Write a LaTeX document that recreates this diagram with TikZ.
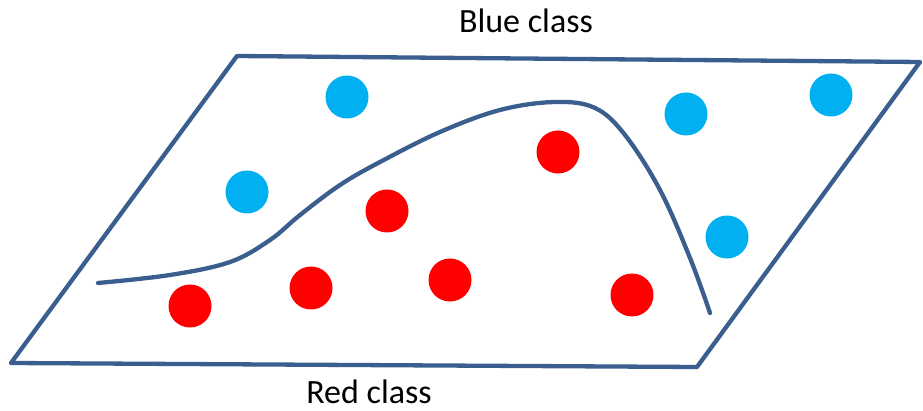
\documentclass[tikz,border=0pt]{standalone}
\usepackage{fontspec}
\setmainfont{Carlito}
\definecolor{frame}{HTML}{3A5F8F}
\definecolor{bluedot}{HTML}{00B0F0}
\definecolor{reddot}{HTML}{FF0000}
\begin{document}
\begin{tikzpicture}[x=1pt,y=-1pt,
  edge/.style={draw=frame,line width=4.3pt,line join=round,line cap=round},
  bdot/.style={circle,fill=bluedot,minimum size=43pt,inner sep=0pt},
  rdot/.style={circle,fill=reddot,minimum size=43pt,inner sep=0pt},
  lab/.style={font=\fontsize{34}{40}\selectfont,inner sep=0pt,anchor=base}]
\useasboundingbox (0,0) rectangle (923,411);
\coordinate (tl) at (237,56);
\coordinate (tr) at (920,62);
\coordinate (br) at (697,367);
\coordinate (bl) at (11,363);
\draw[edge] (tl) -- (tr) -- (br) -- (bl) -- cycle;
\draw[edge] plot[smooth,tension=0.6] coordinates {(98,283) (170,275) (230,262) (270,240) (300,215) (340,185) (380,162) (440,132) (500,110) (555,102) (595,108) (625,135) (660,190) (690,258) (710,313)};
\node[bdot] (b1) at (347,97) {};
\node[bdot] (b2) at (247,192) {};
\node[bdot] (b3) at (686,114) {};
\node[bdot] (b4) at (831,95) {};
\node[bdot] (b5) at (727,237) {};
\node[rdot] (r1) at (558,152) {};
\node[rdot] (r2) at (387,211) {};
\node[rdot] (r3) at (311,288) {};
\node[rdot] (r4) at (450,280) {};
\node[rdot] (r5) at (190,306) {};
\node[rdot] (r6) at (632,295) {};
\node[lab] (blue) at (526,33) {Blue class};
\node[lab] (red) at (369,403) {Red class};
\end{tikzpicture}
\end{document}
